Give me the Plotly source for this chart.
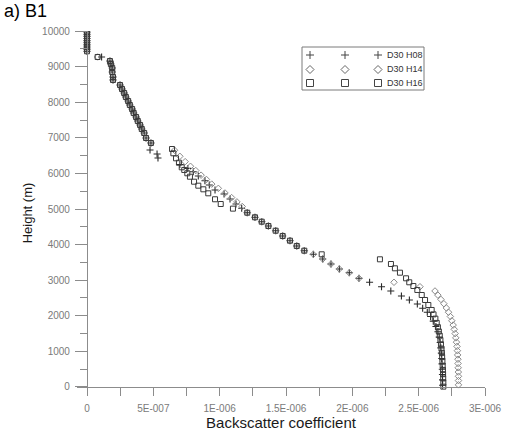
import plotly.graph_objects as go

# ---- data (backscatter in units of 1e-6, height in m) ----
top_height = [9970, 9910, 9850, 9790, 9730, 9670, 9610, 9550, 9490, 9430]
top_bsc = [0, 0, 0, 0, 0, 0, 0, 0, 0, 0]

upper_height = [9157, 9073, 8961, 8848, 8708, 8624, 8483, 8371, 8258, 8146, 8034,
                7921, 7809, 7697, 7584, 7472, 7360, 7247, 7135, 6994, 6854]
upper_bsc = [0.173, 0.18, 0.19, 0.19, 0.196, 0.196, 0.249, 0.264, 0.280, 0.293, 0.310,
             0.323, 0.340, 0.352, 0.370, 0.383, 0.400, 0.413, 0.431, 0.445, 0.482]

mid_height = [4896, 4767, 4643, 4522, 4390, 4242, 4110, 3961, 3829]
mid_bsc = [1.208, 1.266, 1.317, 1.367, 1.422, 1.475, 1.530, 1.581, 1.638]

h08_height = [9270, 6657, 6545, 6433, 6250, 6140, 6048, 5927, 5795, 5674, 5534, 5421,
              5281, 5140, 5020, 3727, 3595, 3455, 3315, 3210, 3053, 2941, 2817, 2697,
              2556, 2444, 2331, 2210, 2100, 1980, 1850, 1700, 1550, 1400, 1250, 1100,
              950, 800, 650, 500, 350, 200, 50]
h08_bsc = [0.11, 0.475, 0.528, 0.535, 0.70, 0.76, 0.801, 0.839, 0.889, 0.922, 0.965, 1.033,
           1.078, 1.123, 1.166, 1.706, 1.777, 1.839, 1.902, 1.977, 2.050, 2.13, 2.22, 2.29,
           2.37, 2.43, 2.49, 2.53, 2.565, 2.59, 2.61, 2.63, 2.645, 2.655, 2.662, 2.667,
           2.671, 2.674, 2.676, 2.678, 2.679, 2.68, 2.68]

h14_height = [9270, 6650, 6480, 6330, 6200, 6080, 5950, 5830, 5700, 5580, 5450, 5320,
              5200, 5070, 3727, 3595, 3455, 3315, 3210, 3053, 2941, 2817, 2697, 2580,
              2460, 2340, 2220, 2100, 1980, 1860, 1740, 1620, 1500, 1380, 1260, 1140,
              1020, 900, 780, 660, 540, 420, 300, 180, 60]
h14_bsc = [0.08, 0.66, 0.70, 0.74, 0.78, 0.82, 0.86, 0.90, 0.94, 0.99, 1.04, 1.09,
           1.13, 1.17, 1.706, 1.777, 1.839, 1.902, 1.977, 2.050, 2.314, 2.51, 2.623, 2.645,
           2.668, 2.690, 2.709, 2.725, 2.739, 2.750, 2.760, 2.768, 2.775, 2.780, 2.785, 2.789,
           2.792, 2.794, 2.796, 2.797, 2.798, 2.799, 2.80, 2.80, 2.80]

h16_height = [9270, 6685, 6565, 6424, 6300, 6171, 6096, 6003, 5907, 5767, 5655, 5553,
              5441, 5273, 5140, 5010, 3727, 3587, 3455, 3334, 3211, 3053, 2941, 2837,
              2725, 2584, 2444, 2303, 2163, 2040, 1920, 1800, 1680, 1560, 1440, 1320,
              1200, 1080, 960, 840, 720, 600, 480, 360, 240, 120, 10]
h16_bsc = [0.08, 0.641, 0.651, 0.671, 0.693, 0.714, 0.733, 0.756, 0.776, 0.807, 0.839, 0.877,
           0.914, 0.965, 1.008, 1.10, 1.769, 2.208, 2.291, 2.321, 2.359, 2.405, 2.429, 2.460,
           2.490, 2.523, 2.548, 2.573, 2.598, 2.612, 2.626, 2.636, 2.645, 2.652, 2.659, 2.664,
           2.668, 2.672, 2.675, 2.677, 2.679, 2.681, 2.683, 2.684, 2.685, 2.686, 2.686]

series_names = ["D30 H08", "D30 H14", "D30 H16"]
x_tick_vals = [0, 0.5e-6, 1.0e-6, 1.5e-6, 2.0e-6, 2.5e-6, 3.0e-6]
x_tick_text = ["0", "5E-007", "1E-006", "1.5E-006", "2E-006", "2.5E-006", "3E-006"]
y_tick_vals = [0, 1000, 2000, 3000, 4000, 5000, 6000, 7000, 8000, 9000, 10000]
y_tick_text = ["0", "1000", "2000", "3000", "4000", "5000", "6000", "7000", "8000", "9000", "10000"]

assert len(h08_height) == len(h08_bsc)
assert len(h14_height) == len(h14_bsc)
assert len(h16_height) == len(h16_bsc)
assert len(upper_height) == len(upper_bsc)
assert len(mid_height) == len(mid_bsc)


def full(h, b):
    hs = top_height + upper_height + mid_height + h
    bs = top_bsc + upper_bsc + mid_bsc + b
    return [v * 1e-6 for v in bs], hs


styles = [
    dict(symbol="cross-thin-open", size=5, color="#2a2a2a", line=dict(width=1.1, color="#2a2a2a")),
    dict(symbol="diamond-open", size=5, color="#8a8a8a", line=dict(width=1, color="#8a8a8a")),
    dict(symbol="square-open", size=5, color="#3a3a3a", line=dict(width=1, color="#3a3a3a")),
]

fig = go.Figure()
for name, (h, b), st in zip(series_names,
                            [(h08_height, h08_bsc), (h14_height, h14_bsc), (h16_height, h16_bsc)],
                            styles):
    xs, ys = full(h, b)
    fig.add_trace(go.Scatter(x=xs, y=ys, mode="markers", name=name, marker=st,
                             showlegend=False))

# plot-area geometry (pixels)
L, R, T, B = 77, 485, 31, 395
W, H = 508, 436
pw, ph = R - L, B - T


def px(x):
    return (x - L) / pw


def py(y):
    return (B - y) / ph


axis_col = "#8c8c8c"
tick_font = dict(family="Arial, Liberation Sans, sans-serif", size=10, color="#7a7a7a")

fig.update_layout(
    width=W, height=H,
    margin=dict(l=L, r=W - R, t=T, b=H - B, autoexpand=False),
    paper_bgcolor="white", plot_bgcolor="white",
    font=dict(family="Arial, Liberation Sans, sans-serif", color="black"),
    xaxis=dict(
        range=[-0.0754e-6, 3.0e-6], showgrid=False, zeroline=False, automargin=False,
        showline=True, linecolor=axis_col, linewidth=1.2,
        anchor="free", position=(B - 387) / ph,
        tickmode="array", tickvals=x_tick_vals, ticktext=x_tick_text,
        ticks="outside", ticklen=8, tickcolor=axis_col, tickwidth=1.2,
        ticklabelstandoff=4,
        minor=dict(tickmode="linear", tick0=0, dtick=0.25e-6, ticks="outside",
                   ticklen=8, tickcolor=axis_col, tickwidth=1.2),
        tickfont=tick_font,
        title=dict(text="Backscatter coefficient", standoff=4,
                   font=dict(size=15, color="#1a1a1a")),
    ),
    yaxis=dict(
        range=[-225, 10000], showgrid=False, zeroline=False, automargin=False,
        showline=True, linecolor=axis_col, linewidth=1.2,
        anchor="free", position=px(87),
        tickmode="array", tickvals=y_tick_vals, ticktext=y_tick_text,
        ticks="outside", ticklen=12, tickcolor=axis_col, tickwidth=1.2,
        ticklabelstandoff=3,
        minor=dict(tickmode="linear", tick0=500, dtick=1000, ticks="outside",
                   ticklen=7, tickcolor=axis_col, tickwidth=1.2),
        tickfont=tick_font,
        title=dict(text="Height (m)", standoff=5,
                   font=dict(size=13, color="#1a1a1a")),
    ),
)

# panel label
fig.add_annotation(text="a) B1", xref="paper", yref="paper", x=px(2), y=py(11),
                   xanchor="left", yanchor="middle", showarrow=False,
                   font=dict(size=18, color="black"))

# legend (Origin style: three symbols per row), drawn with shapes
fig.add_shape(type="rect", xref="paper", yref="paper",
              x0=px(302), x1=px(424), y0=py(90), y1=py(47),
              line=dict(color="#7a7a7a", width=1), fillcolor="white")
legend_rows = [55, 69.5, 83]
legend_cols = [310, 345, 378]
s = 3.5  # half size of legend glyph in px
gl = dict(color="#444444", width=1)
for i, (name, ry) in enumerate(zip(series_names, legend_rows)):
    for cx in legend_cols:
        if i == 0:
            fig.add_shape(type="line", xref="paper", yref="paper",
                          x0=px(cx - s - 0.5), x1=px(cx + s + 0.5), y0=py(ry), y1=py(ry), line=gl)
            fig.add_shape(type="line", xref="paper", yref="paper",
                          x0=px(cx), x1=px(cx), y0=py(ry - s - 0.5), y1=py(ry + s + 0.5), line=gl)
        elif i == 1:
            path = "M {a},{b} L {c},{d} L {e},{f} L {g},{h} Z".format(
                a=px(cx - s - 0.5), b=py(ry), c=px(cx), d=py(ry - s - 0.5),
                e=px(cx + s + 0.5), f=py(ry), g=px(cx), h=py(ry + s + 0.5))
            fig.add_shape(type="path", xref="paper", yref="paper", path=path,
                          line=dict(color="#666666", width=1))
        else:
            fig.add_shape(type="rect", xref="paper", yref="paper",
                          x0=px(cx - s), x1=px(cx + s), y0=py(ry + s), y1=py(ry - s), line=gl)
    fig.add_annotation(text=name, xref="paper", yref="paper", x=px(385), y=py(ry),
                       xanchor="left", yanchor="middle", showarrow=False,
                       font=dict(size=9, color="#333333"))

fig.write_html("out.html")
